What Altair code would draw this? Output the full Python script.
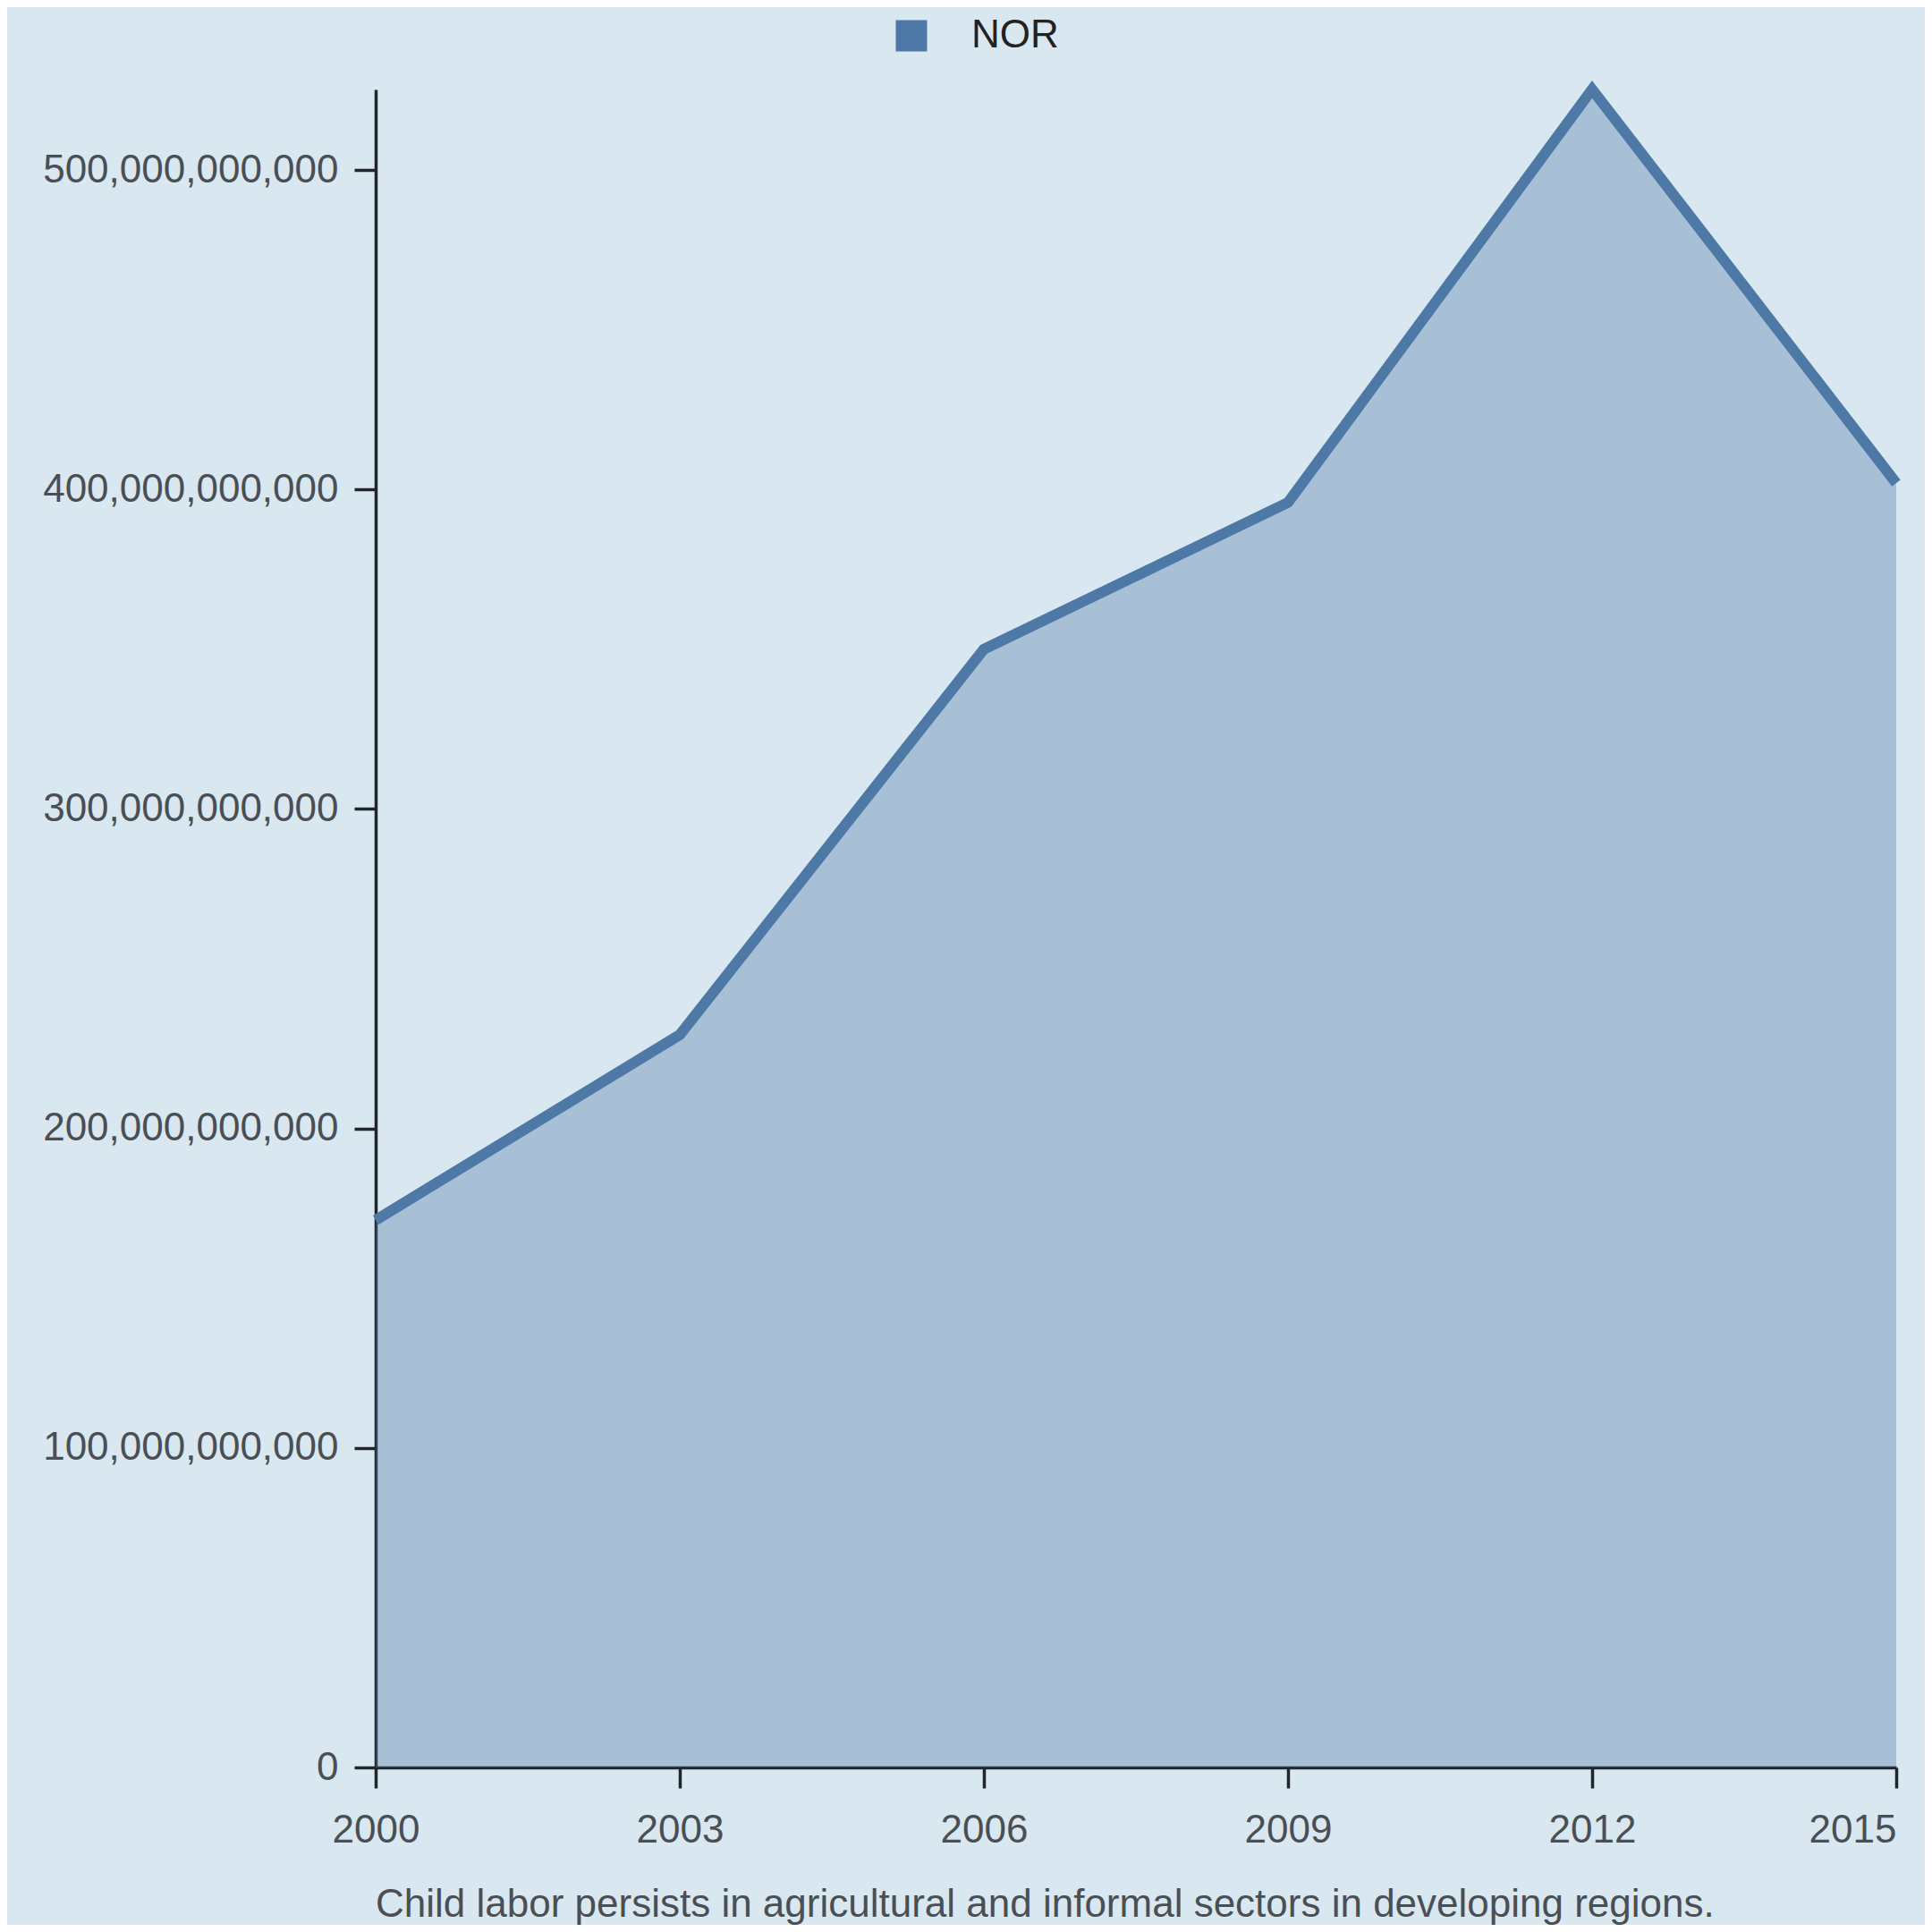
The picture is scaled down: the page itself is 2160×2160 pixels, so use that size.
import altair as alt
import pandas as pd

years = [2000, 2003, 2006, 2009, 2012, 2015]
values = [171.3e9, 229.3e9, 350.0e9, 395.9e9, 525.2e9, 402.0e9]
country = "NOR"
y_ticks = [0, 100e9, 200e9, 300e9, 400e9, 500e9]
caption = "Child labor persists in agricultural and informal sectors in developing regions."

df = pd.DataFrame({"year": years, "value": values, "country": [country] * len(years)})

FONT = "Liberation Sans, Arial, sans-serif"
LINE = "#4e79a7"
FS = 44

x = alt.X(
    "year:Q",
    scale=alt.Scale(domain=[2000, 2015], nice=False, zero=False),
    axis=alt.Axis(
        values=years, format="d", title=None, grid=False,
        labelFlush=False,
        labelAlign=alt.ExprRef("datum.value == 2015 ? 'right' : 'center'"),
        labelFont=FONT, labelFontSize=FS, labelColor="#4a4f55",
        labelPadding=25, tickSize=23, tickWidth=3.5, tickColor="#212529",
        domainColor="#212529", domainWidth=3.5,
    ),
)
y = alt.Y(
    "value:Q",
    scale=alt.Scale(nice=False, zero=True),
    axis=alt.Axis(
        values=y_ticks, format=",d", title=None, grid=False,
        labelFont=FONT, labelFontSize=FS, labelColor="#4a4f55", labelLimit=0,
        labelPadding=18, tickSize=24, tickWidth=3.5, tickColor="#212529",
        domainColor="#212529", domainWidth=3.5,
    ),
)

area = alt.Chart(df).mark_area(fillOpacity=0.35).encode(
    x=x, y=y,
    color=alt.Color(
        "country:N",
        scale=alt.Scale(range=[LINE]),
        legend=alt.Legend(
            title=None, orient="none", legendX=577, legendY=-82,
            direction="horizontal",
            symbolType="square", symbolSize=1225, symbolOpacity=1,
            symbolStrokeWidth=0,
            labelFont=FONT, labelFontSize=FS, labelColor="#222222",
            labelOffset=45,
        ),
    ),
)
line = alt.Chart(df).mark_line(color=LINE, strokeWidth=12).encode(x=x, y=y)

chart = (
    alt.layer(area, line)
    .properties(
        width=1700, height=1876,
        autosize="none",
        padding={"left": 412, "top": 92, "right": 32, "bottom": 176},
        background="#d9e7f0",
        title=alt.TitleParams(
            caption, orient="bottom", anchor="start", frame="group", font=FONT,
            fontSize=FS, fontWeight="normal", color="#4a4f55", offset=40,
        ),
    )
    .configure_view(stroke=None)
)

chart.save("out.html", embed_options={"renderer": "svg", "actions": False})
